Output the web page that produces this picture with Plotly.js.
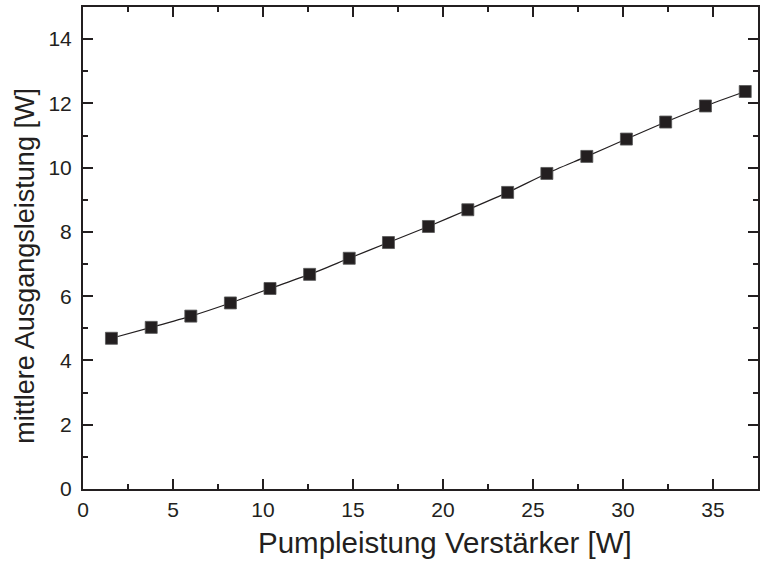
<!DOCTYPE html>
<html>
<head>
<meta charset="utf-8">
<script src="https://cdn.plot.ly/plotly-3.0.1.min.js"></script>
<style>html,body{margin:0;padding:0;background:#fff;}#chart{width:760px;height:565px;}</style>
</head>
<body>
<div id="chart"></div>
<script>
const pumpPower = [1.58, 3.79, 5.99, 8.19, 10.39, 12.59, 14.79, 16.97, 19.19, 21.38, 23.59, 25.77, 27.99, 30.19, 32.37, 34.58, 36.79];
const outputPower = [4.69, 5.03, 5.38, 5.79, 6.24, 6.68, 7.18, 7.67, 8.17, 8.69, 9.23, 9.82, 10.35, 10.89, 11.42, 11.92, 12.37];
const xTickVals = [0, 5, 10, 15, 20, 25, 30, 35];
const yTickVals = [0, 2, 4, 6, 8, 10, 12, 14];
const xTitle = 'Pumpleistung Verstärker [W]';
const yTitle = 'mittlere Ausgangsleistung [W]';

const ink = '#231f20';
const fam = 'Liberation Sans, Arial, sans-serif';
const trace = {
  x: pumpPower, y: outputPower, type: 'scatter', mode: 'lines+markers',
  line: {color: ink, width: 1.2, shape: 'spline', smoothing: 0.6},
  marker: {symbol: 'square', size: 12, color: ink, line: {color: '#555', width: 0.8}},
  hoverinfo: 'x+y'
};
const axisCommon = {
  showline: true, linecolor: ink, linewidth: 2, mirror: 'ticks',
  ticks: 'inside', ticklen: 10, tickwidth: 2, tickcolor: ink,
  showgrid: false, zeroline: false,
  tickfont: {family: fam, size: 21, color: ink},
};
const layout = {
  width: 760, height: 565,
  margin: {l: 83, r: 2, t: 7, b: 76},
  paper_bgcolor: '#fff', plot_bgcolor: '#fff',
  showlegend: false,
  xaxis: Object.assign({}, axisCommon, {
    range: [0, 37.5], tickvals: xTickVals, ticktext: xTickVals.map(String),
    ticklabelstandoff: 1,
    minor: {dtick: 2.5, tick0: 0, ticks: 'inside', ticklen: 5, tickwidth: 2, tickcolor: ink}
  }),
  yaxis: Object.assign({}, axisCommon, {
    range: [0, 15], tickvals: yTickVals, ticktext: yTickVals.map(String),
    ticklabelstandoff: 5,
    minor: {dtick: 1, tick0: 0, ticks: 'inside', ticklen: 5, tickwidth: 2, tickcolor: ink}
  }),
  annotations: [
    {text: xTitle, xref: 'paper', yref: 'paper', x: 0.536, y: -0.111, xanchor: 'center', yanchor: 'middle',
     showarrow: false, font: {family: fam, size: 29.5, color: ink}},
    {text: yTitle, xref: 'paper', yref: 'paper', x: -0.086, y: 0.463, xanchor: 'center', yanchor: 'middle',
     textangle: -90, showarrow: false, font: {family: fam, size: 27, color: ink}}
  ]
};
Plotly.newPlot('chart', [trace], layout, {displayModeBar: false, staticPlot: true});
</script>
</body>
</html>
